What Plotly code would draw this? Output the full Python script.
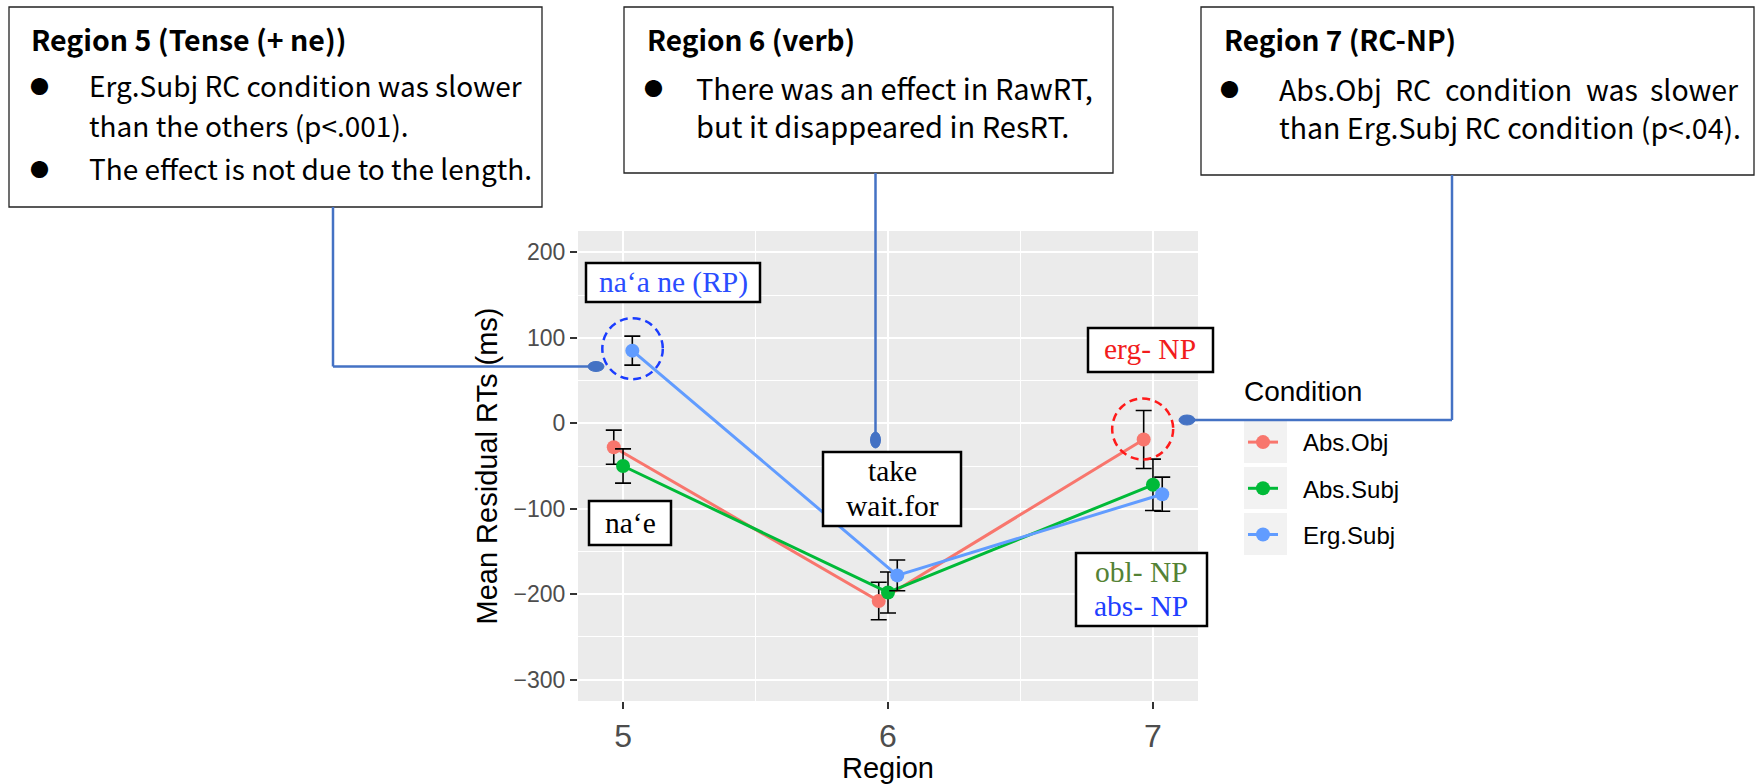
import plotly.graph_objects as go

# ---------------- data ----------------
regions = [5, 6, 7]
conditions = ["Abs.Obj", "Abs.Subj", "Erg.Subj"]
cond_colors = ["#F8766D", "#00BA38", "#619CFF"]
mean_abs_obj = [-28, -208, -19]
mean_abs_subj = [-50, -198, -72]
mean_erg_subj = [85, -178, -83]
se_abs_obj = [20, 22, 34]
se_abs_subj = [20, 24, 30]
se_erg_subj = [17, 18, 20]
dodge = [-0.035, 0.0, 0.035]
y_ticks = [-300, -200, -100, 0, 100, 200]
y_tick_text = ["−300", "−200", "−100", "0", "100", "200"]
x_ticks = [5, 6, 7]

means = [mean_abs_obj, mean_abs_subj, mean_erg_subj]
ses = [se_abs_obj, se_abs_subj, se_erg_subj]

box5_title = "Region 5 (Tense (+ ne))"
box5_lines = ["Erg.Subj RC condition was slower", "than the others (p<.001).",
              "The effect is not due to the length."]
box6_title = "Region 6 (verb)"
box6_lines = ["There was an effect in RawRT,", "but it disappeared in ResRT."]
box7_title = "Region 7 (RC-NP)"
box7_line1_words = ["Abs.Obj", "RC", "condition", "was", "slower"]
box7_line2 = "than Erg.Subj RC condition (p<.04)."

# ---------------- geometry helpers ----------------
W, H = 1756, 784
PL, PR, PT, PB = 578, 1198, 231, 701


def px(x):
    return (x - PL) / (PR - PL)


def py(y):
    return (PB - y) / (PB - PT)


SANS = "Liberation Sans, Arial, sans-serif"
JP = "Noto Sans CJK JP, sans-serif"
SERIF = "Liberation Serif, Times New Roman, serif"
CONN = "#4472C4"
PAD = "\u00a0\u00a0\u00a0"  # gap between legend key and label

fig = go.Figure()
for i, c in enumerate(conditions):
    fig.add_trace(go.Scatter(
        x=[r + dodge[i] for r in regions], y=means[i], name=PAD + c,
        mode="lines+markers", legendgroup=c,
        line=dict(color=cond_colors[i], width=3),
        marker=dict(color=cond_colors[i], size=14),
        error_y=dict(type="data", array=ses[i], color="black", thickness=1.6, width=8),
    ))

shapes = []
annotations = []


def rect(x0, y0, x1, y1, lw=2.5, color="black"):
    shapes.append(dict(type="rect", xref="paper", yref="paper", x0=px(x0), x1=px(x1),
                       y0=py(y1), y1=py(y0), line=dict(color=color, width=lw),
                       fillcolor="white", layer="above"))


def seg(x0, y0, x1, y1):
    shapes.append(dict(type="line", xref="paper", yref="paper", x0=px(x0), x1=px(x1),
                       y0=py(y0), y1=py(y1), line=dict(color=CONN, width=2.5), layer="above"))


def oval(cx, cy, rx, ry):
    shapes.append(dict(type="circle", xref="paper", yref="paper", x0=px(cx - rx), x1=px(cx + rx),
                       y0=py(cy + ry), y1=py(cy - ry), line=dict(color=CONN, width=1),
                       fillcolor=CONN, layer="above"))


def text(x, y, s, size, color="black", family=JP, xanchor="left", bold=False):
    if bold:
        s = "<b>" + s + "</b>"
    annotations.append(dict(x=px(x), y=py(y), xref="paper", yref="paper", text=s,
                            showarrow=False, xanchor=xanchor, yanchor="middle",
                            font=dict(size=size, color=color, family=family)))


# big callout boxes
rect(9, 7, 542, 207, lw=1.3, color="#222222")
rect(624, 7, 1113, 173, lw=1.3, color="#222222")
rect(1201, 7, 1754, 175, lw=1.3, color="#222222")

text(29, 38, box5_title, 28.5, bold=True)
text(39, 85, "●", 19, xanchor="center")
text(87, 85, box5_lines[0], 28)
text(87, 125, box5_lines[1], 28)
text(39, 168, "●", 19, xanchor="center")
text(87, 168, box5_lines[2], 28)

text(645, 39, box6_title, 28, bold=True)
text(653, 87, "●", 19, xanchor="center")
text(694, 87, box6_lines[0], 29)
text(694, 125, box6_lines[1], 29)

text(1222, 39, box7_title, 28, bold=True)
text(1229, 88, "●", 19, xanchor="center")
word_x = [1277, 1393, 1443, 1584]
for wx, wd in zip(word_x, box7_line1_words[:4]):
    text(wx, 88, wd, 28.5)
text(1741, 88, box7_line1_words[4], 28.5, xanchor="right")
text(1277, 126, box7_line2, 28.5)

# connectors
seg(333, 207, 333, 366.5)
seg(333, 366.5, 596, 366.5)
oval(596, 366.5, 8, 5)
seg(875.5, 173, 875.5, 440)
oval(875.5, 440, 5, 8)
seg(1452, 175, 1452, 420)
seg(1452, 420, 1187, 420)
oval(1187, 420, 8, 5)

# small label boxes
rect(586, 263, 760, 302)
text(673, 282, "na‘a ne (RP)", 29.5, color="#2A4DFF", family=SERIF, xanchor="center")
rect(589, 501, 671, 545)
text(630, 523, "na‘e", 29.5, family=SERIF, xanchor="center")
rect(823, 452, 961, 526)
text(892, 471, "take", 29.5, family=SERIF, xanchor="center")
text(892, 506, "wait.for", 29.5, family=SERIF, xanchor="center")
rect(1088, 328, 1213, 372)
text(1150, 349, "erg- NP", 29.5, color="#F21C1C", family=SERIF, xanchor="center")
rect(1076, 553, 1207, 626)
text(1141, 572, "obl- NP", 29.5, color="#548235", family=SERIF, xanchor="center")
text(1141, 606, "abs- NP", 29.5, color="#1F3FFF", family=SERIF, xanchor="center")

# dashed circles anchored at data points
shapes.append(dict(type="circle", xref="x", yref="y", xsizemode="pixel", ysizemode="pixel",
                   xanchor=regions[0] + dodge[2], yanchor=mean_erg_subj[0],
                   x0=-30, x1=30.5, y0=-28.5, y1=32.5,
                   line=dict(color="#1A3CFF", width=2.5, dash="8px,5px"), layer="above"))
shapes.append(dict(type="circle", xref="x", yref="y", xsizemode="pixel", ysizemode="pixel",
                   xanchor=regions[2] + dodge[0], yanchor=mean_abs_obj[2],
                   x0=-31.5, x1=29.5, y0=-20, y1=41,
                   line=dict(color="#FF1A1A", width=2.5, dash="8px,5px"), layer="above"))

# legend title and key backgrounds
text(1242, 391, "Condition", 28, family=SANS)
for cy in [442, 488, 534]:
    shapes.append(dict(type="rect", xref="paper", yref="paper", x0=px(1244), x1=px(1287),
                       y0=py(cy + 21), y1=py(cy - 21), line=dict(width=0),
                       fillcolor="#F2F2F2", layer="below"))

fig.update_layout(
    width=W, height=H,
    margin=dict(l=PL, r=W - PR, t=PT, b=H - PB, pad=0, autoexpand=False),
    paper_bgcolor="white", plot_bgcolor="#EBEBEB",
    shapes=shapes, annotations=annotations,
    showlegend=True,
    legend=dict(x=px(1243), xanchor="left", y=py(420), yanchor="top",
                bgcolor="rgba(0,0,0,0)", itemwidth=30, tracegroupgap=12,
                traceorder="grouped",
                font=dict(size=24, family=SANS, color="black")),
    xaxis=dict(range=[4.83, 7.17], tickvals=x_ticks, ticktext=[str(v) for v in x_ticks],
               showgrid=True, gridcolor="white", gridwidth=2.2, zeroline=False,
               minor=dict(dtick=0.5, tick0=0, showgrid=True, gridcolor="white", gridwidth=1.1),
               ticks="outside", ticklen=7, tickwidth=2, tickcolor="#333333",
               tickfont=dict(size=32, family=SANS, color="#4D4D4D"),
               title=dict(text="Region", font=dict(size=29, family=SANS, color="black"), standoff=0),
               showline=False, automargin=False),
    yaxis=dict(range=[-325, 225], tickvals=y_ticks, ticktext=y_tick_text,
               showgrid=True, gridcolor="white", gridwidth=2.2, zeroline=False,
               minor=dict(dtick=50, tick0=0, showgrid=True, gridcolor="white", gridwidth=1.1),
               ticks="outside", ticklen=7, tickwidth=2, tickcolor="#333333",
               tickfont=dict(size=23, family=SANS, color="#4D4D4D"),
               title=dict(text="Mean Residual RTs (ms)", font=dict(size=29, family=SANS, color="black"), standoff=7),
               showline=False, automargin=False),
)

fig.write_html("out.html")
